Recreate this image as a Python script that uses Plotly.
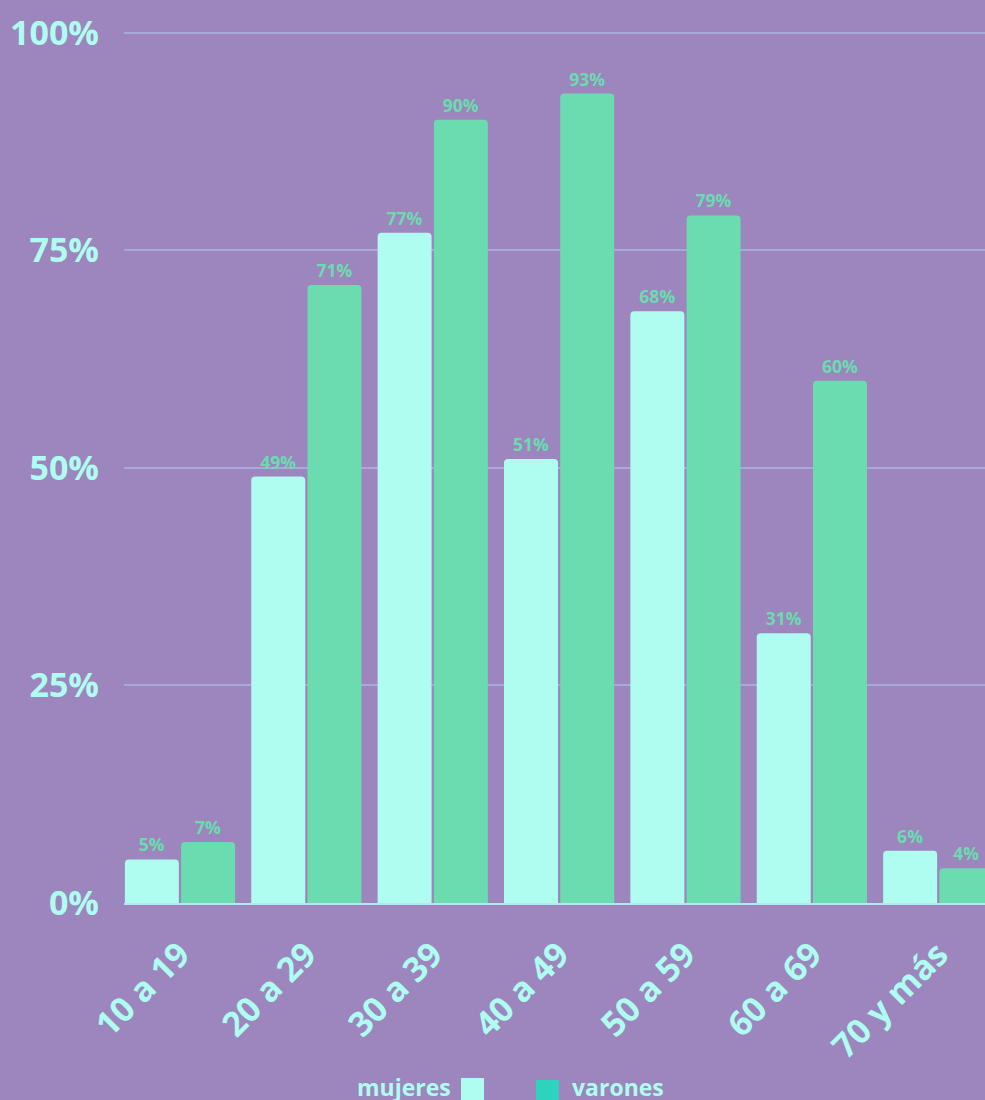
import plotly.graph_objects as go

categorias = ["10 a 19", "20 a 29", "30 a 39", "40 a 49", "50 a 59", "60 a 69", "70 y más"]
mujeres = [5, 49, 77, 51, 68, 31, 6]
varones = [7, 71, 90, 93, 79, 60, 4]
ticks_y = [0, 25, 50, 75, 100]
ticks_y_txt = ["0%", "25%", "50%", "75%", "100%"]

fondo = "#9D85BE"
claro = "#AFFDF0"
verde = "#6BDCB0"
verde_leyenda = "#2ED3BE"
fuente = "Open Sans"

fig = go.Figure()
fig.add_trace(go.Bar(
    x=categorias, y=mujeres, name="mujeres",
    marker=dict(color=claro, cornerradius=4, line_width=0),
    texttemplate="<b>%{y}%</b>", textposition="outside", constraintext="none",
    textfont=dict(color=verde, size=17.5, family=fuente),
    cliponaxis=False, showlegend=False,
))
fig.add_trace(go.Bar(
    x=categorias, y=varones, name="varones",
    marker=dict(color=verde, cornerradius=4, line_width=0),
    texttemplate="<b>%{y}%</b>", textposition="outside", constraintext="none",
    textfont=dict(color=verde, size=17.5, family=fuente),
    cliponaxis=False, showlegend=False,
))

# leyenda manual: texto y cuadrado
L, W, T, H = 124, 861, 30, 873
def px_x(x):
    return (x - L) / W
def px_y(y):
    return (T + H - y) / H

fig.add_annotation(x=px_x(453), y=px_y(1087), xref="paper", yref="paper",
                   text="<b>mujeres</b>", showarrow=False, xanchor="right", yanchor="middle",
                   font=dict(color=claro, size=23, family=fuente))
fig.add_annotation(x=px_x(570), y=px_y(1087), xref="paper", yref="paper",
                   text="<b>varones</b>", showarrow=False, xanchor="left", yanchor="middle",
                   font=dict(color=claro, size=23, family=fuente))
fig.add_shape(type="rect", xref="paper", yref="paper",
              x0=px_x(461), x1=px_x(484), y0=px_y(1100), y1=px_y(1078),
              fillcolor=claro, line_width=0)
fig.add_shape(type="rect", xref="paper", yref="paper",
              x0=px_x(536), x1=px_x(559), y0=px_y(1100), y1=px_y(1080),
              fillcolor=verde_leyenda, line_width=0)

fig.update_layout(
    width=985, height=1100,
    margin=dict(l=L, r=0, t=T, b=1100 - T - H),
    paper_bgcolor=fondo, plot_bgcolor=fondo,
    barmode="group", bargap=0.11, bargroupgap=0.04,
    font=dict(family=fuente),
    xaxis=dict(
        range=[-0.443, 6.37], tickangle=-45,
        tickfont=dict(color=claro, size=34, family=fuente, weight="bold"),
        showgrid=False, showline=True, linecolor="#B7E6EE", linewidth=2,
        ticks="", ticklabelstandoff=16,
    ),
    yaxis=dict(
        range=[0, 100.3], tickvals=ticks_y, ticktext=ticks_y_txt,
        tickfont=dict(color=claro, size=34, family=fuente, weight="bold"),
        gridcolor="#A9A9D9", gridwidth=1.5, zeroline=False,
        ticks="", ticklabelstandoff=24,
    ),
)

fig.write_html("out.html", config={"displayModeBar": False},
               post_script="document.body.style.margin='0';document.body.style.overflow='hidden';")
